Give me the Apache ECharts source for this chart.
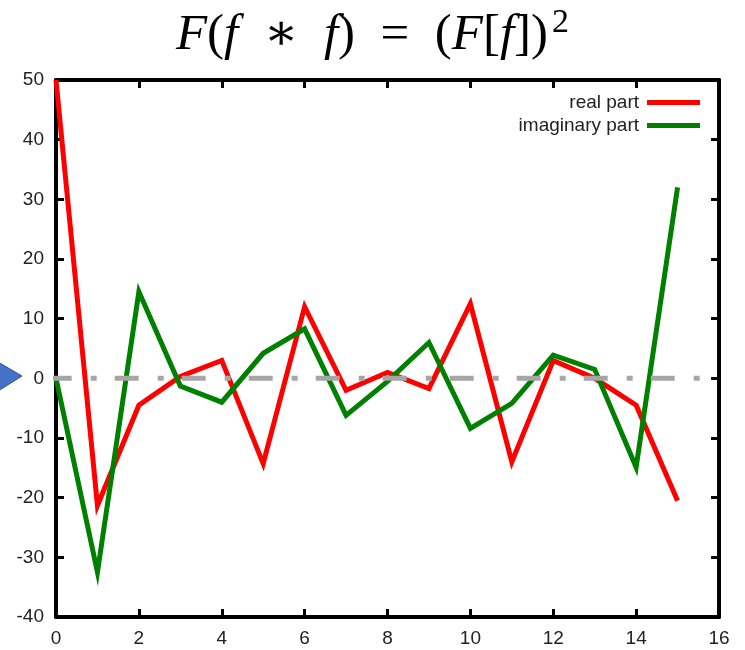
<!DOCTYPE html>
<html>
<head>
<meta charset="utf-8">
<script src="https://cdn.jsdelivr.net/npm/echarts@6/dist/echarts.min.js"></script>
<style>
  html, body { margin: 0; padding: 0; background: #fff; }
  #chart { width: 745px; height: 650px; }
</style>
</head>
<body>
<div id="chart"></div>
<script>
// Sample index k = 0..15
const indices = [0, 1, 2, 3, 4, 5, 6, 7, 8, 9, 10, 11, 12, 13, 14, 15];
// Real part of the transform of the self-convolution
const realPart = [50, -21.3, -4.5, 0.3, 3, -14.3, 12, -2, 1, -1.7, 12.5, -14, 3, 0, -4.5, -20.5];
// Imaginary part
const imagPart = [0, -32.5, 14.5, -1.3, -4, 4.2, 8.3, -6.2, -0.5, 6, -8.4, -4.2, 3.9, 1.5, -14.9, 32];
// Zero reference line end points (x)
const zeroLineX = [-0.2, 15.55];

const xTicks = { min: 0, max: 16, interval: 2 };
const yTicks = { min: -40, max: 50, interval: 10 };

const labelFont = { fontFamily: 'Liberation Sans, Arial, sans-serif', fontSize: 19, color: '#222' };
const frameLine = { show: true, onZero: false, lineStyle: { color: '#000', width: 4 } };
const innerTick = { show: true, inside: true, length: 8, lineStyle: { color: '#000', width: 3 } };
const mathFont = 'Liberation Serif, DejaVu Serif, serif';

const chart = echarts.init(document.getElementById('chart'), null, { renderer: 'canvas' });

chart.setOption({
  backgroundColor: '#fff',
  animation: false,
  title: {
    left: 'center',
    top: 1,
    text: '{i|F}{n|(}{i|f}{n|  \u2217  }{i|f}{n|)  =  (}{i|F}{n|[}{i|f}{n|])}{s|2}',
    textStyle: {
      fontWeight: 'normal',
      rich: {
        i: { fontFamily: mathFont, fontStyle: 'italic', fontWeight: 'normal', fontSize: 51, color: '#000' },
        n: { fontFamily: mathFont, fontWeight: 'normal', fontSize: 51, color: '#000' },
        s: { fontFamily: mathFont, fontWeight: 'normal', fontSize: 34, color: '#000', padding: [0, 0, 26, 4] }
      }
    }
  },
  legend: {
    orient: 'vertical',
    right: 40,
    top: 88,
    align: 'right',
    icon: 'rect',
    itemWidth: 53,
    itemHeight: 5,
    itemGap: 4,
    textStyle: { fontFamily: 'Liberation Sans, Arial, sans-serif', fontSize: 19, color: '#222', padding: [0, 3, 0, 0] },
    data: ['real part', 'imaginary part']
  },
  grid: { left: 56, right: 26, top: 80, bottom: 33 },
  xAxis: [
    {
      type: 'value', position: 'bottom', min: xTicks.min, max: xTicks.max, interval: xTicks.interval,
      axisLine: frameLine, axisTick: innerTick, splitLine: { show: false },
      axisLabel: Object.assign({ margin: 12 }, labelFont)
    },
    {
      type: 'value', position: 'top', min: xTicks.min, max: xTicks.max, interval: xTicks.interval,
      axisLine: frameLine, axisTick: innerTick, splitLine: { show: false }, axisLabel: { show: false }
    }
  ],
  yAxis: [
    {
      type: 'value', position: 'left', min: yTicks.min, max: yTicks.max, interval: yTicks.interval,
      axisLine: frameLine, axisTick: innerTick, splitLine: { show: false },
      axisLabel: Object.assign({ margin: 12 }, labelFont)
    },
    {
      type: 'value', position: 'right', min: yTicks.min, max: yTicks.max, interval: yTicks.interval,
      axisLine: frameLine, axisTick: innerTick, splitLine: { show: false }, axisLabel: { show: false }
    }
  ],
  series: [
    {
      name: 'zero',
      type: 'line',
      clip: false,
      silent: true,
      showSymbol: false,
      z: 3,
      zlevel: 1,
      data: zeroLineX.map(x => [x, 0]),
      lineStyle: { color: '#A6A6A6', width: 5, type: [24, 19, 6, 18] }
    },
    {
      name: 'real part',
      type: 'line',
      showSymbol: false,
      z: 4,
      data: indices.map((k, i) => [k, realPart[i]]),
      itemStyle: { color: '#FF0000' },
      lineStyle: { color: '#FF0000', width: 5, join: 'miter' }
    },
    {
      name: 'imaginary part',
      type: 'line',
      showSymbol: false,
      z: 5,
      data: indices.map((k, i) => [k, imagPart[i]]),
      itemStyle: { color: '#008000' },
      lineStyle: { color: '#008000', width: 5, join: 'miter' }
    }
  ],
  graphic: [
    {
      type: 'polygon',
      shape: { points: [[-2, 362], [22, 376], [-2, 391]] },
      style: { fill: '#4472C4', stroke: '#2F528F', lineWidth: 1 }
    }
  ]
});
</script>
</body>
</html>
